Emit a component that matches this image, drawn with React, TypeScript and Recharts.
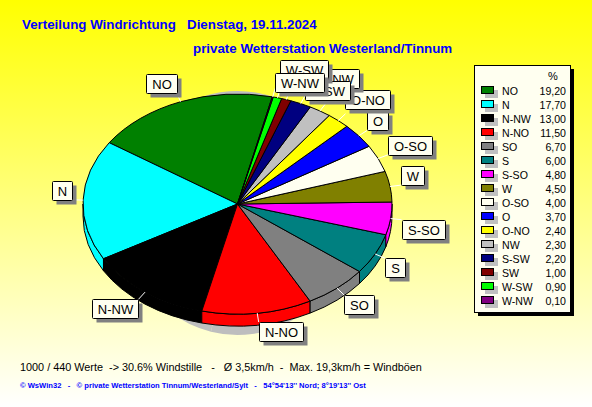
import React from "react";
import { PieChart, Pie } from "recharts";

const categories = ["NO", "N", "N-NW", "N-NO", "SO", "S", "S-SO", "W", "O-SO", "O", "O-NO", "NW", "S-SW", "SW", "W-SW", "W-NW"];
const percentages = [19.2, 17.7, 13.0, 11.5, 6.7, 6.0, 4.8, 4.5, 4.0, 3.7, 2.4, 2.3, 2.2, 1.0, 0.9, 0.1];
const percentLabels = ["19,20", "17,70", "13,00", "11,50", "6,70", "6,00", "4,80", "4,50", "4,00", "3,70", "2,40", "2,30", "2,20", "1,00", "0,90", "0,10"];
const sliceColors = ["#008000", "#00FFFF", "#000000", "#FF0000", "#808080", "#008080", "#FF00FF", "#808000", "#FFFFF0", "#0000FF", "#FFFF00", "#C0C0C0", "#000080", "#800000", "#00FF00", "#800080"];

const title1 = "Verteilung Windrichtung   Dienstag, 19.11.2024";
const title2 = "private Wetterstation Westerland/Tinnum";
const footer1 = "1000 / 440 Werte  -> 30.6% Windstille   -   Ø 3,5km/h  -  Max. 19,3km/h = Windböen";
const footer2 = "© WsWin32   -   © private Wetterstation Tinnum/Westerland/Sylt   -   54°54'13'' Nord; 8°19'13'' Ost";

const sliceData = categories.map((name, i) => ({ name, value: percentages[i], fill: sliceColors[i] }));

// Layout
const CX = 237.5;
const CY = 204;
const RX = 154.5;
const RATIO = 110 / 154.5;
const DEPTH = 12;
const LABEL_FONT = "13px 'Liberation Sans', Arial, sans-serif";
// vertical nudges that keep the crowded labels apart, as in the reference
const labelLift: Record<string, number> = { "O-NO": 5, NW: 15, "S-SW": -5, SW: 0, "W-SW": 10, "W-NW": -4 };

const RAD = Math.PI / 180;
const pt = (cx: number, cy: number, rx: number, ry: number, a: number) => [cx + rx * Math.cos(a * RAD), cy - ry * Math.sin(a * RAD)];

const ellipseSector = (ratio: number, stroke: string) => (p: any) => {
  const rx = p.outerRadius;
  const ry = rx * ratio;
  const [x0, y0] = pt(p.cx, p.cy, rx, ry, p.startAngle);
  const [x1, y1] = pt(p.cx, p.cy, rx, ry, p.endAngle);
  const large = Math.abs(p.endAngle - p.startAngle) > 180 ? 1 : 0;
  const d = `M${p.cx},${p.cy}L${x0},${y0}A${rx},${ry} 0 ${large} 0 ${x1},${y1}Z`;
  return <path d={d} fill={stroke === "none" ? "#BEBEBE" : p.fill} stroke={stroke} strokeWidth={1} />;
};

const wallShape = (p: any) => {
  const a0 = Math.max(p.startAngle, 180);
  const a1 = Math.min(p.endAngle, 360);
  if (a1 <= a0) return <g />;
  const rx = p.outerRadius;
  const ry = rx * RATIO;
  const [x0, y0] = pt(p.cx, p.cy, rx, ry, a0);
  const [x1, y1] = pt(p.cx, p.cy, rx, ry, a1);
  const d = `M${x0},${y0}A${rx},${ry} 0 0 0 ${x1},${y1}L${x1},${y1 + DEPTH}A${rx},${ry} 0 0 1 ${x0},${y0 + DEPTH}Z`;
  return <path d={d} fill={p.fill} stroke="#000" strokeWidth={1} />;
};

let ctx: CanvasRenderingContext2D | null = null;
const textWidth = (s: string) => {
  if (!ctx) ctx = document.createElement("canvas").getContext("2d");
  if (!ctx) return s.length * 8;
  ctx.font = LABEL_FONT;
  return ctx.measureText(s).width;
};

const renderLabel = (p: any) => {
  const a = p.midAngle;
  const rx = p.outerRadius;
  const ry = rx * RATIO;
  const [ex, ey] = pt(p.cx, p.cy, rx, ry, a);
  const [tx, ty] = pt(p.cx, p.cy, rx + 11, ry + 9, a);
  const cos = Math.cos(a * RAD);
  const sin = Math.sin(a * RAD);
  const w = Math.round(textWidth(p.name) + 11);
  const h = 19;
  const lift = labelLift[p.name] ?? 0;
  const left = Math.round(cos >= 0 ? tx : tx - w);
  const top = Math.round((sin >= 0 ? ty - h : ty) - lift);
  return (
    <g key={p.name}>
      <line x1={ex} y1={ey} x2={tx} y2={ty} stroke="#fff" strokeWidth={1} />
      <rect x={left + 4.5} y={top + 4.5} width={w} height={h} fill="#808080" />
      <rect x={left + 0.5} y={top + 0.5} width={w} height={h} rx={1} fill="#FFFFF0" stroke="#000" strokeWidth={1} />
      <text x={left + w / 2 + 0.5} y={top + 15} textAnchor="middle" fill="#000" style={{ font: LABEL_FONT }}>
        {p.name}
      </text>
    </g>
  );
};

const abs = (left: number, top: number, extra: React.CSSProperties = {}): React.CSSProperties => ({
  position: "absolute",
  left,
  top,
  whiteSpace: "pre",
  lineHeight: 1,
  fontFamily: "'Liberation Sans', Arial, sans-serif",
  ...extra,
});

const ROW0 = 86;
const ROW_STEP = 14;

export default function App() {
  return (
    <div style={{ position: "absolute", left: 0, top: 0, width: 592, height: 407, overflow: "hidden", background: "linear-gradient(#FFFF00, #FFFFFF)" }}>
      <div style={abs(22, 18, { color: "#0000FF", fontWeight: "bold", fontSize: 13.33 })}>{title1}</div>
      <div style={abs(193, 42, { color: "#0000FF", fontWeight: "bold", fontSize: 13.33 })}>{title2}</div>

      <div style={{ position: "absolute", left: 0, top: 0 }}>
        <PieChart width={592} height={407} margin={{ top: 0, right: 0, bottom: 0, left: 0 }}>
          <Pie data={sliceData} dataKey="value" nameKey="name" cx={CX} cy={213} outerRadius={115} startAngle={77} endAngle={437} paddingAngle={0} stroke="none" isAnimationActive={false} shape={ellipseSector(122 / 115, "none")} />
          <Pie data={sliceData} dataKey="value" nameKey="name" cx={CX} cy={CY} outerRadius={RX} startAngle={77} endAngle={437} paddingAngle={0} isAnimationActive={false} shape={wallShape} />
          <Pie data={sliceData} dataKey="value" nameKey="name" cx={CX} cy={CY} outerRadius={RX} startAngle={77} endAngle={437} paddingAngle={0} isAnimationActive={false} shape={ellipseSector(RATIO, "#000")} label={renderLabel} labelLine={false} />
        </PieChart>
      </div>

      <div style={{ position: "absolute", left: 478, top: 69, width: 96, height: 247, background: "#000" }} />
      <div style={{ position: "absolute", left: 474, top: 65, width: 95, height: 246, background: "#FFFFF0", border: "1px solid #000" }} />
      <div style={abs(548, 71, { fontSize: 11, color: "#000" })}>%</div>
      {categories.map((name, i) => (
        <React.Fragment key={name}>
          <div style={{ position: "absolute", left: 485, top: ROW0 + i * ROW_STEP + 4, width: 13, height: 8, background: "#C0C0C0" }} />
          <div style={{ position: "absolute", left: 481, top: ROW0 + i * ROW_STEP, width: 11, height: 6, background: sliceColors[i], border: "1px solid #000" }} />
          <div style={abs(502, ROW0 + i * ROW_STEP, { fontSize: 10.6, color: "#000" })}>{name}</div>
          <div style={abs(526, ROW0 + i * ROW_STEP, { fontSize: 10.6, color: "#000", width: 40, textAlign: "right" })}>{percentLabels[i]}</div>
        </React.Fragment>
      ))}

      <div style={abs(20, 362, { fontSize: 10.85, color: "#000" })}>{footer1}</div>
      <div style={abs(20, 382, { fontSize: 7.6, color: "#0000FF", fontWeight: "bold" })}>{footer2}</div>
    </div>
  );
}
